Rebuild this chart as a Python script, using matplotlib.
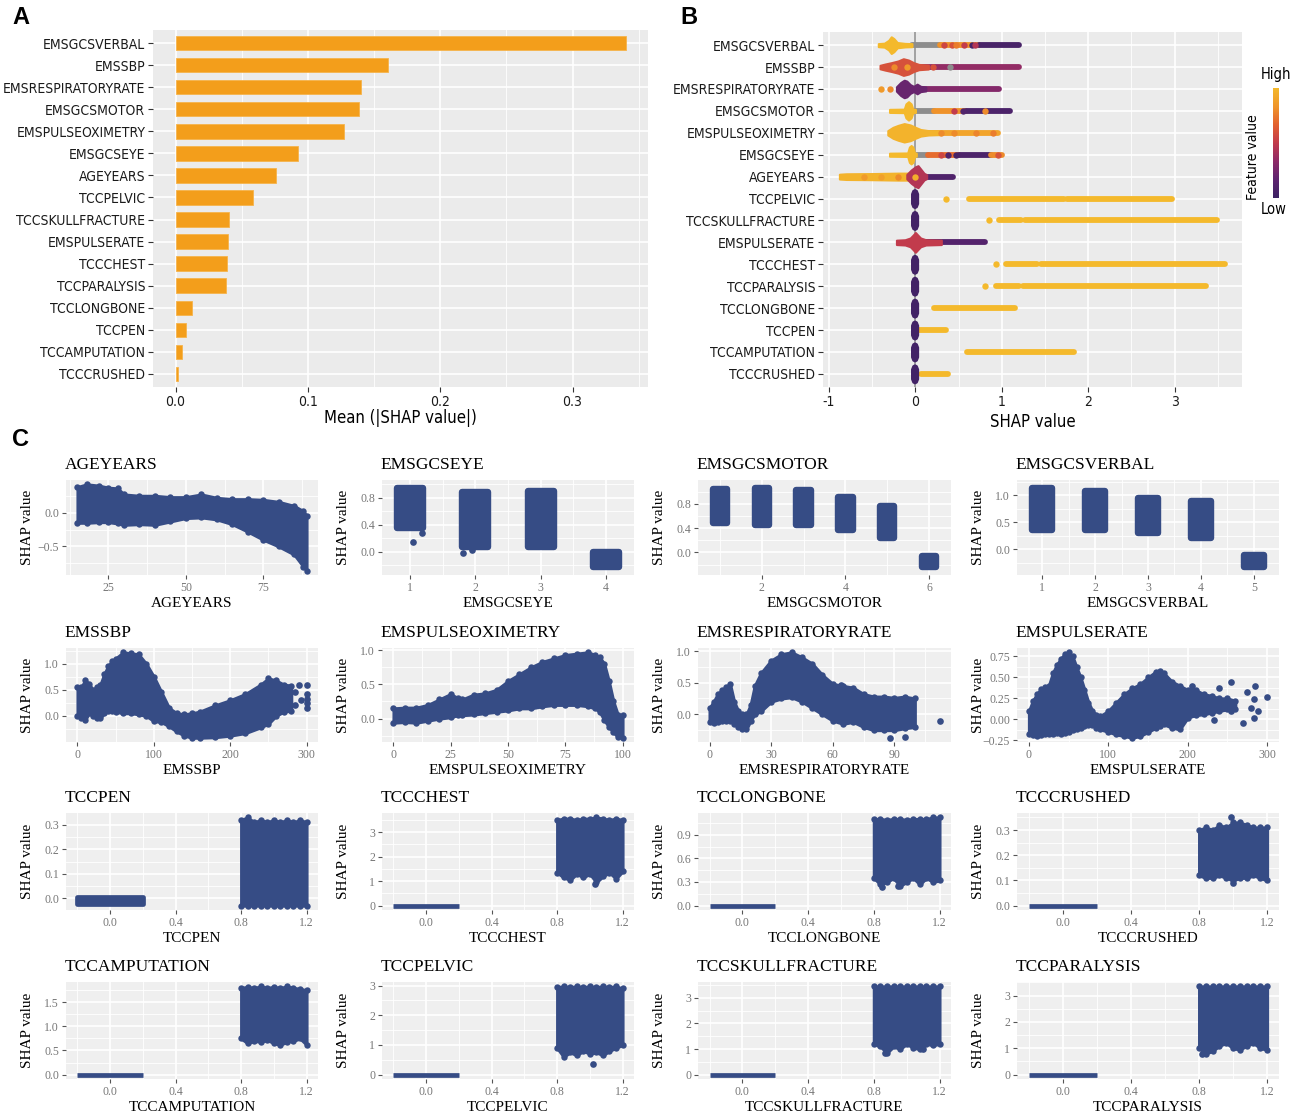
import numpy as np
import matplotlib
matplotlib.use("Agg")
import matplotlib.pyplot as plt
from matplotlib import font_manager as fm
from matplotlib.colors import LinearSegmentedColormap

W, H = 1293, 1113
fig = plt.figure(figsize=(W / 100, H / 100), dpi=100)

SANS = ["Liberation Sans", "DejaVu Sans"]
SERIF = ["Liberation Serif", "DejaVu Serif"]


def narrow_font_path():
    for fam in ["Liberation Sans Narrow", "DejaVu Sans", "Noto Sans", "Open Sans",
                "Roboto Condensed", "Roboto"]:
        for stretch in ["condensed", "semi-condensed", "normal"]:
            try:
                path = fm.findfont(fm.FontProperties(family=fam, stretch=stretch),
                                   fallback_to_default=False)
            except Exception:
                continue
            low = path.lower()
            if ("narrow" in low or "condensed" in low or "cond" in low) and \
                    "bold" not in low and "italic" not in low and "oblique" not in low:
                return path
    return None


NARROW_PATH = narrow_font_path()


def nfont(size):
    if NARROW_PATH:
        return fm.FontProperties(fname=NARROW_PATH, size=size)
    return fm.FontProperties(family=SANS, size=size * 0.86)


ORANGE = "#F39E1B"
NAVY = "#364C85"
GG_BG = "#EBEBEB"
C_BG = "#EFEFEF"
NA_GREY = "#8D8D8D"

# ------------------------------------------------------------------ data A
features = ["EMSGCSVERBAL", "EMSSBP", "EMSRESPIRATORYRATE", "EMSGCSMOTOR",
            "EMSPULSEOXIMETRY", "EMSGCSEYE", "AGEYEARS", "TCCPELVIC",
            "TCCSKULLFRACTURE", "EMSPULSERATE", "TCCCHEST", "TCCPARALYSIS",
            "TCCLONGBONE", "TCCPEN", "TCCAMPUTATION", "TCCCRUSHED"]
mean_abs_shap = [0.340, 0.1603, 0.1403, 0.1390, 0.1273, 0.0925, 0.0760, 0.0583,
                 0.0405, 0.0393, 0.0390, 0.0380, 0.0127, 0.0079, 0.0048, 0.0022]

# ------------------------------------------------------------------ data B
# dense cores: (feature, x positions, half heights in row units, feature value)
TCC_CORE_X = [-0.045, -0.03, -0.01, 0.01, 0.025]
TCC_CORE_H = [0.22, 0.37, 0.41, 0.37, 0.22]
b_cores = [
    ("EMSGCSVERBAL", [-0.43, -0.36, -0.31, -0.28, -0.25, -0.21, -0.12, -0.04],
     [0.07, 0.09, 0.22, 0.38, 0.30, 0.12, 0.08, 0.07], 1.0),
    ("EMSSBP", [-0.41, -0.35, -0.28, -0.2, -0.14, -0.08, -0.02, 0.04, 0.15],
     [0.08, 0.14, 0.20, 0.28, 0.38, 0.32, 0.20, 0.12, 0.09], 0.6),
    ("EMSRESPIRATORYRATE", [-0.22, -0.17, -0.13, -0.1, -0.06, -0.02, 0.02, 0.06, 0.12],
     [0.10, 0.30, 0.40, 0.36, 0.20, 0.12, 0.22, 0.12, 0.09], 0.2),
    ("EMSGCSMOTOR", [-0.3, -0.13, -0.11, -0.08, -0.05, -0.03, 0.0],
     [0.07, 0.08, 0.32, 0.42, 0.32, 0.08, 0.07], 1.0),
    ("EMSPULSEOXIMETRY", [-0.32, -0.26, -0.2, -0.13, -0.06, 0.0, 0.06, 0.15, 0.3],
     [0.10, 0.25, 0.34, 0.42, 0.36, 0.25, 0.15, 0.10, 0.08], 0.97),
    ("EMSGCSEYE", [-0.3, -0.09, -0.07, -0.05, -0.03, -0.01, 0.01],
     [0.07, 0.08, 0.35, 0.42, 0.35, 0.08, 0.07], 1.0),
    ("AGEYEARS", [-0.88, -0.8, -0.5, -0.2, -0.06],
     [0.11, 0.13, 0.14, 0.16, 0.16], 0.97),
    ("AGEYEARS", [-0.1, -0.05, 0.0, 0.03, 0.06, 0.1, 0.13],
     [0.10, 0.30, 0.45, 0.50, 0.35, 0.15, 0.09], 0.45),
    ("EMSPULSERATE", [-0.22, -0.12, -0.06, -0.03, 0.0, 0.03, 0.06, 0.12, 0.3],
     [0.10, 0.12, 0.20, 0.32, 0.45, 0.32, 0.20, 0.12, 0.10], 0.5),
]
for f in ["TCCPELVIC", "TCCSKULLFRACTURE", "TCCCHEST", "TCCPARALYSIS",
          "TCCLONGBONE", "TCCPEN", "TCCAMPUTATION", "TCCCRUSHED"]:
    b_cores.append((f, TCC_CORE_X, TCC_CORE_H, 0.03))

# runs of overlapping points: (feature, x start, x end, feature value; None = missing)
b_bands = [
    ("EMSGCSVERBAL", -0.04, 0.29, None), ("EMSGCSVERBAL", 0.29, 0.73, 0.82),
    ("EMSGCSVERBAL", 0.73, 1.2, 0.06),
    ("EMSSBP", 0.05, 1.2, 0.35),
    ("EMSRESPIRATORYRATE", 0.05, 0.97, 0.3),
    ("EMSGCSMOTOR", 0.0, 0.22, None), ("EMSGCSMOTOR", 0.22, 0.58, 0.82),
    ("EMSGCSMOTOR", 0.58, 1.1, 0.08),
    ("EMSPULSEOXIMETRY", 0.15, 0.96, 0.9),
    ("EMSGCSEYE", 0.0, 0.15, None), ("EMSGCSEYE", 0.15, 0.5, 0.7),
    ("EMSGCSEYE", 0.5, 0.88, 0.08), ("EMSGCSEYE", 0.88, 1.0, 0.8),
    ("AGEYEARS", 0.1, 0.43, 0.1),
    ("TCCPELVIC", 0.62, 1.72, 1.0), ("TCCPELVIC", 1.76, 2.97, 1.0),
    ("TCCSKULLFRACTURE", 0.97, 1.22, 1.0), ("TCCSKULLFRACTURE", 1.27, 3.49, 1.0),
    ("EMSPULSERATE", 0.1, 0.8, 0.12),
    ("TCCCHEST", 1.05, 1.41, 1.0), ("TCCCHEST", 1.45, 3.58, 1.0),
    ("TCCPARALYSIS", 0.93, 1.2, 1.0), ("TCCPARALYSIS", 1.25, 3.36, 1.0),
    ("TCCLONGBONE", 0.22, 1.15, 1.0),
    ("TCCPEN", 0.03, 0.35, 1.0),
    ("TCCAMPUTATION", 0.6, 1.84, 1.0),
    ("TCCCRUSHED", 0.07, 0.38, 1.0),
]
# single visible points: (feature, SHAP value, feature value)
b_points = [
    ("EMSGCSVERBAL", 0.33, 0.55), ("EMSGCSVERBAL", 0.42, 0.6), ("EMSGCSVERBAL", 0.47, 0.75),
    ("EMSGCSVERBAL", 0.56, 0.5), ("EMSGCSVERBAL", 0.65, 0.05), ("EMSGCSVERBAL", 0.69, 0.45),
    ("EMSSBP", -0.25, 0.8), ("EMSSBP", -0.1, 0.85), ("EMSSBP", 0.4, None), ("EMSSBP", 0.2, 0.6),
    ("EMSRESPIRATORYRATE", -0.4, 0.85), ("EMSRESPIRATORYRATE", -0.3, 0.8),
    ("EMSGCSMOTOR", 0.45, 0.5), ("EMSGCSMOTOR", 0.55, 0.1), ("EMSGCSMOTOR", 0.8, 0.8),
    ("EMSPULSEOXIMETRY", 0.3, 0.8), ("EMSPULSEOXIMETRY", 0.45, 0.8),
    ("EMSPULSEOXIMETRY", 0.7, 0.78), ("EMSPULSEOXIMETRY", 0.9, 0.75),
    ("EMSGCSEYE", 0.3, 0.55), ("EMSGCSEYE", 0.38, 0.1), ("EMSGCSEYE", 0.47, 0.05),
    ("EMSGCSEYE", 0.95, 0.6),
    ("AGEYEARS", -0.6, 0.85), ("AGEYEARS", -0.4, 0.88), ("AGEYEARS", -0.2, 0.8),
    ("AGEYEARS", 0.0, 0.95),
    ("TCCPELVIC", 0.35, 1.0), ("TCCSKULLFRACTURE", 0.85, 1.0),
    ("TCCCHEST", 0.93, 1.0), ("TCCPARALYSIS", 0.8, 1.0),
]

# ------------------------------------------------------------------ data C
AGE_X = [15, 18, 22, 25, 28, 30, 35, 40, 45, 50, 55, 60, 65, 70, 75, 80, 85, 88, 89]
AGE_UP = [0.38, 0.42, 0.40, 0.37, 0.36, 0.27, 0.25, 0.25, 0.23, 0.23, 0.27, 0.22,
          0.20, 0.20, 0.19, 0.16, 0.10, 0.02, -0.05]
AGE_LO = [-0.15, -0.15, -0.14, -0.14, -0.16, -0.18, -0.17, -0.18, -0.13, -0.08, -0.07,
          -0.10, -0.17, -0.28, -0.40, -0.50, -0.62, -0.80, -0.86]

SBP_X = [0, 5, 10, 15, 20, 25, 30, 35, 40, 45, 50, 60, 70, 80, 90, 100, 110, 120, 130,
         140, 150, 160, 180, 200, 220, 240, 250, 260, 270, 280]
SBP_UP = [0.55, 0.55, 0.68, 0.62, 0.50, 0.55, 0.60, 0.80, 0.95, 1.05, 1.10, 1.22, 1.20,
          1.18, 1.00, 0.75, 0.45, 0.15, 0.05, 0.03, 0.05, 0.08, 0.20, 0.30, 0.42, 0.60,
          0.72, 0.68, 0.60, 0.58]
SBP_LO = [0.00, -0.05, -0.08, 0.05, 0.00, -0.05, -0.04, 0.05, 0.10, 0.09, 0.08, 0.05,
          0.05, 0.03, 0.00, -0.10, -0.12, -0.20, -0.30, -0.38, -0.42, -0.42, -0.41,
          -0.38, -0.33, -0.22, -0.15, 0.00, 0.08, 0.10]
SBP_OUT = [(300, 0.60), (300, 0.42), (300, 0.33), (300, 0.25), (300, 0.15),
           (290, 0.60), (285, 0.45), (293, 0.30), (285, 0.20)]

POX_X = [0, 5, 10, 15, 20, 25, 28, 30, 35, 40, 45, 50, 55, 60, 65, 70, 75, 80, 85,
         88, 90, 92, 94, 96, 98, 100]
POX_UP = [0.15, 0.16, 0.16, 0.20, 0.28, 0.36, 0.30, 0.28, 0.35, 0.37, 0.42, 0.55, 0.65,
          0.75, 0.83, 0.88, 0.93, 0.95, 0.97, 0.93, 0.90, 0.80, 0.55, 0.25, 0.05, 0.05]
POX_LO = [-0.06, -0.05, -0.06, -0.03, 0.00, 0.02, 0.05, 0.05, 0.06, 0.08, 0.10, 0.12,
          0.15, 0.15, 0.18, 0.20, 0.20, 0.20, 0.18, 0.15, 0.10, -0.02, -0.12, -0.20,
          -0.27, -0.28]

RESP_X = [0, 2, 4, 6, 8, 10, 12, 14, 16, 18, 20, 22, 25, 30, 35, 40, 45, 50, 55, 60,
          65, 70, 75, 80, 85, 90, 95, 100]
RESP_UP = [0.10, 0.20, 0.32, 0.38, 0.43, 0.48, 0.20, 0.05, 0.00, 0.00, 0.15, 0.45,
           0.65, 0.85, 0.95, 0.98, 0.90, 0.80, 0.62, 0.48, 0.45, 0.42, 0.32, 0.28,
           0.28, 0.26, 0.28, 0.25]
RESP_LO = [-0.12, -0.13, -0.12, -0.10, -0.10, -0.10, -0.15, -0.20, -0.23, -0.23, -0.10,
           0.00, 0.05, 0.20, 0.25, 0.27, 0.20, 0.10, 0.00, -0.10, -0.15, -0.12, -0.20,
           -0.25, -0.25, -0.25, -0.22, -0.20]
RESP_OUT = [(112, -0.10), (88, -0.37), (95, -0.36), (63, -0.02), (64, 0.47)]

PR_X = [0, 5, 10, 15, 20, 25, 30, 35, 40, 45, 50, 55, 60, 65, 70, 75, 80, 85, 90, 100,
        110, 120, 130, 140, 150, 160, 165, 170, 180, 190, 200, 210, 220, 230, 240, 250,
        260]
PR_UP = [0.10, 0.22, 0.30, 0.36, 0.38, 0.40, 0.55, 0.65, 0.72, 0.78, 0.80, 0.75, 0.62,
         0.50, 0.35, 0.20, 0.10, 0.05, 0.04, 0.10, 0.20, 0.30, 0.37, 0.42, 0.50, 0.57,
         0.58, 0.55, 0.45, 0.40, 0.35, 0.35, 0.30, 0.28, 0.25, 0.25, 0.22]
PR_LO = [-0.18, -0.19, -0.20, -0.19, -0.18, -0.18, -0.17, -0.16, -0.17, -0.16, -0.15,
         -0.13, -0.12, -0.10, -0.08, -0.07, -0.07, -0.10, -0.12, -0.15, -0.18, -0.20,
         -0.22, -0.20, -0.15, -0.10, -0.08, -0.06, -0.10, -0.12, 0.02, 0.05, 0.06,
         0.08, 0.10, 0.12, 0.12]
PR_OUT = [(255, 0.45), (240, 0.37), (275, 0.33), (285, 0.40), (284, 0.24), (288, 0.10),
          (300, 0.27), (270, -0.05), (284, 0.02), (233, -0.01), (255, 0.10), (280, 0.14),
          (205, 0.40)]

EYE_CAT = [1, 2, 3, 4]
EYE_TOP = [1.00, 0.93, 0.95, 0.05]
EYE_BOT = [0.30, 0.02, 0.02, -0.28]
EYE_OUT = [(1.05, 0.15), (1.18, 0.28), (1.82, -0.02), (1.95, 0.02)]

MOTOR_CAT = [1, 2, 3, 4, 5, 6]
MOTOR_TOP = [1.10, 1.12, 1.08, 0.97, 0.82, 0.00]
MOTOR_BOT = [0.43, 0.40, 0.40, 0.32, 0.18, -0.30]

VERBAL_CAT = [1, 2, 3, 4, 5]
VERBAL_TOP = [1.20, 1.14, 1.00, 0.95, -0.05]
VERBAL_BOT = [0.30, 0.30, 0.23, 0.14, -0.40]

BIN_X = [0.8, 0.84, 0.88, 0.92, 0.96, 1.0, 1.04, 1.08, 1.12, 1.16, 1.2]
PEN_UP = [0.32, 0.33, 0.31, 0.32, 0.31, 0.32, 0.31, 0.32, 0.31, 0.32, 0.31]
PEN_LO = [-0.03] * 11
CHEST_UP = [3.50, 3.55, 3.55, 3.50, 3.55, 3.55, 3.60, 3.55, 3.50, 3.55, 3.50]
CHEST_LO = [1.35, 1.15, 1.05, 1.30, 1.15, 1.30, 0.95, 1.20, 1.35, 1.10, 1.40]
LONG_UP = [1.10, 1.10, 1.09, 1.10, 1.10, 1.09, 1.10, 1.10, 1.10, 1.12, 1.12]
LONG_LO = [0.35, 0.27, 0.30, 0.35, 0.25, 0.30, 0.35, 0.27, 0.35, 0.30, 0.32]
CRUSH_UP = [0.30, 0.31, 0.30, 0.32, 0.31, 0.33, 0.33, 0.32, 0.31, 0.31, 0.31]
CRUSH_LO = [0.12, 0.11, 0.11, 0.12, 0.11, 0.10, 0.11, 0.11, 0.12, 0.11, 0.10]
AMP_UP = [1.80, 1.82, 1.80, 1.83, 1.80, 1.82, 1.80, 1.83, 1.80, 1.78, 1.75]
AMP_LO = [0.75, 0.65, 0.70, 0.68, 0.72, 0.65, 0.62, 0.68, 0.70, 0.75, 0.62]
PELV_UP = [2.95, 2.97, 2.95, 2.97, 2.95, 2.97, 2.95, 2.97, 2.95, 2.97, 2.90]
PELV_LO = [0.90, 0.60, 0.75, 0.65, 0.80, 0.70, 0.75, 0.65, 0.80, 0.90, 1.00]
SKULL_UP = [3.45] * 11
SKULL_LO = [1.20, 1.10, 0.85, 1.10, 1.00, 1.20, 1.05, 1.00, 1.20, 1.15, 1.20]
PARA_UP = [3.35] * 11
PARA_LO = [1.00, 0.80, 0.90, 1.10, 1.20, 1.00, 0.95, 1.10, 1.20, 1.00, 0.95]
BIN_OUT = {
    "TCCPELVIC": [(1.02, 0.35)], "TCCCHEST": [(1.03, 0.90)],
    "TCCLONGBONE": [(0.85, 0.23), (0.95, 0.25)],
    "TCCCRUSHED": [(1.0, 0.09), (0.99, 0.35)],
    "TCCSKULLFRACTURE": [(0.87, 0.85), (1.1, 1.0)],
    "TCCPARALYSIS": [(0.82, 0.80)], "TCCAMPUTATION": [], "TCCPEN": [],
}


# ------------------------------------------------------------------ helpers
def px_axes(l, t, r, b):
    return fig.add_axes([l / W, 1 - b / H, (r - l) / W, (b - t) / H])


def minor_breaks(major, lim):
    step = major[1] - major[0]
    cand = [major[0] - step / 2] + [(a + b) / 2 for a, b in zip(major[:-1], major[1:])] \
        + [major[-1] + step / 2]
    return [v for v in cand if lim[0] <= v <= lim[1]]


def expand(lo, hi, frac=0.05):
    pad = (hi - lo) * frac
    return lo - pad, hi + pad


def fmt(v, nd):
    s = f"{v:.{nd}f}"
    return s.replace("-", "\u2212")


def style_labels(labels, size):
    for t in labels:
        t.set_fontproperties(nfont(size))
        t.set_color("#1A1A1A")


# ------------------------------------------------------------------ panel A
axA = px_axes(153, 30, 648, 387)
n = len(features)
rows = np.arange(n, 0, -1)
axA.set_facecolor(GG_BG)
for v in [0.05, 0.15, 0.25, 0.35]:
    axA.axvline(v, color="white", lw=0.6, zorder=0.3)
for v in [0.0, 0.1, 0.2, 0.3]:
    axA.axvline(v, color="white", lw=1.2, zorder=0.3)
for r in rows:
    axA.axhline(r, color="white", lw=1.2, zorder=0.3)
axA.barh(rows, mean_abs_shap, height=0.65, color=ORANGE, edgecolor="#F6B44C",
         lw=0.6, zorder=2)
axA.set_xlim(-0.017, 0.357)
axA.set_ylim(0.4, n + 0.6)
axA.set_yticks(rows, features)
axA.set_xticks([0.0, 0.1, 0.2, 0.3], ["0.0", "0.1", "0.2", "0.3"])
style_labels(axA.get_yticklabels() + axA.get_xticklabels(), 10)
axA.tick_params(length=3.5, width=0.8, color="#333333", pad=2)
axA.set_xlabel("Mean (|SHAP value|)", fontproperties=nfont(12), labelpad=0)
for s in axA.spines.values():
    s.set_visible(False)

# ------------------------------------------------------------------ panel B
cmap_b = LinearSegmentedColormap.from_list(
    "featval", ["#3C2264", "#5E2470", "#8E2A68", "#C23B4C", "#E3612F", "#F0962A",
                "#F4B92C"])


def fcol(v):
    return NA_GREY if v is None else cmap_b(v)


axB = px_axes(823, 32, 1242, 387)
axB.set_facecolor(GG_BG)
for v in [-0.5, 0.5, 1.5, 2.5, 3.5]:
    axB.axvline(v, color="white", lw=0.6, zorder=0.3)
for v in [-1, 0, 1, 2, 3]:
    axB.axvline(v, color="white", lw=1.2, zorder=0.3)
for r in rows:
    axB.axhline(r, color="white", lw=1.2, zorder=0.3)
axB.axvline(0, color="#9A9A9A", lw=1.3, zorder=0.6)
ypos = {f: n - i for i, f in enumerate(features)}

for f, x0, x1, v in b_bands:
    axB.plot([x0, x1], [ypos[f], ypos[f]], color=fcol(v), lw=4.2,
             solid_capstyle="round", zorder=2)
for f, xs, hs, v in b_cores:
    y = ypos[f]
    xs = np.asarray(xs)
    hs = np.asarray(hs)
    axB.fill_between(xs, y - hs, y + hs, color=fcol(v), lw=1.5, edgecolor=fcol(v),
                     zorder=3)
for f, x, v in b_points:
    axB.plot([x], [ypos[f]], "o", color=fcol(v), ms=4.6, mew=0, zorder=4)

axB.set_xlim(-1.07, 3.78)
axB.set_ylim(0.4, n + 0.6)
axB.set_yticks(rows, features)
axB.set_xticks([-1, 0, 1, 2, 3], ["-1", "0", "1", "2", "3"])
style_labels(axB.get_yticklabels() + axB.get_xticklabels(), 10)
axB.tick_params(length=3.5, width=0.8, color="#333333", pad=2)
axB.set_xlabel("SHAP value", fontproperties=nfont(12), labelpad=3)
for s in axB.spines.values():
    s.set_visible(False)

# colour bar
cax = px_axes(1273, 88, 1279, 198)
cax.imshow(np.linspace(1, 0, 256)[:, None], aspect="auto", cmap=cmap_b,
           extent=[0, 1, 0, 1])
cax.axis("off")
fig.text(1276 / W, 1 - 75 / H, "High", ha="center", va="center",
         fontproperties=nfont(10.5))
fig.text(1274 / W, 1 - 209 / H, "Low", ha="center", va="center",
         fontproperties=nfont(10.5))
fig.text(1253 / W, 1 - 157 / H, "Feature value", ha="center", va="center",
         rotation=90, fontproperties=nfont(10))

# ------------------------------------------------------------------ panel letters
for x, y, s in [(12, 18, "A"), (680, 18, "B"), (12, 440, "C")]:
    fig.text(x / W, 1 - y / H, s, family=SANS, fontsize=17, fontweight="bold",
             ha="left", va="center")

# ------------------------------------------------------------------ panel C
col_lr = [(66, 318), (382, 634), (698, 951), (1017, 1279)]
row_tb = [(480, 575), (648, 742), (813, 910), (982, 1079)]


def c_panel(idx, title, xlim, xmaj, xlab, ylim, ymaj, ylab):
    r, c = divmod(idx, 4)
    l, rr = col_lr[c]
    t, b = row_tb[r]
    ax = px_axes(l, t, rr, b)
    ax.set_facecolor(C_BG)
    for v in minor_breaks(xmaj, xlim):
        ax.axvline(v, color="white", lw=0.6, zorder=0.3)
    for v in minor_breaks(ymaj, ylim):
        ax.axhline(v, color="white", lw=0.6, zorder=0.3)
    for v in xmaj:
        ax.axvline(v, color="white", lw=1.2, zorder=0.3)
    for v in ymaj:
        ax.axhline(v, color="white", lw=1.2, zorder=0.3)
    ax.set_xlim(*xlim)
    ax.set_ylim(*ylim)
    ax.set_xticks(xmaj)
    ax.set_xticklabels(xlab, family=SERIF, fontsize=8.5, color="#777777")
    ax.set_yticks(ymaj)
    ax.set_yticklabels(ylab, family=SERIF, fontsize=8.5, color="#777777")
    ax.tick_params(length=3, width=0.8, color="#555555", pad=2)
    for s in ax.spines.values():
        s.set_visible(False)
    ax.annotate(title, xy=(0, 1), xycoords="axes fraction", xytext=(-1, 11),
                textcoords="offset points", ha="left", va="center", family=SERIF,
                fontsize=12.5)
    ax.set_xlabel(title, family=SERIF, fontsize=11)
    ax.xaxis.set_label_coords(0.5, -22 / (b - t))
    ax.set_ylabel("SHAP value", family=SERIF, fontsize=11)
    ax.yaxis.set_label_coords(-32 / (rr - l), 0.5)
    return ax


def draw_env(ax, xs, lo, up, out=()):
    ax.fill_between(xs, lo, up, color=NAVY, lw=2.2, edgecolor=NAVY, zorder=2,
                    joinstyle="round")
    ax.plot(xs, up, "o", color=NAVY, ms=4.6, mew=0, zorder=2)
    ax.plot(xs, lo, "o", color=NAVY, ms=4.6, mew=0, zorder=2)
    for x, y in out:
        ax.plot([x], [y], "o", color=NAVY, ms=4.8, mew=0, zorder=3)


def draw_cats(ax, cats, top, bot, half=0.25, out=()):
    xl, yl = ax.get_xlim(), ax.get_ylim()
    ppx = ax.bbox.width / (xl[1] - xl[0])
    ppy = ax.bbox.height / (yl[1] - yl[0])
    rad = 3.2  # corner radius, pixels
    dx, dy = rad / ppx, rad / ppy
    for c, tp, bt in zip(cats, top, bot):
        ax.fill_between([c - half + dx, c + half - dx], [bt + dy] * 2, [tp - dy] * 2,
                        color=NAVY, lw=rad * 2 * 0.72, edgecolor=NAVY, zorder=2,
                        joinstyle="round")
    for x, y in out:
        ax.plot([x], [y], "o", color=NAVY, ms=4.8, mew=0, zorder=3)


def cont_panel(idx, title, xs, lo, up, xmaj, ymaj, ynd, out=(), xmax=None):
    xl = expand(min(xs), max(xs) if xmax is None else xmax)
    yl = expand(min(lo + [p[1] for p in out]), max(up + [p[1] for p in out]))
    ax = c_panel(idx, title, xl, xmaj, [f"{v:g}" for v in xmaj], yl, ymaj,
                 [fmt(v, ynd) for v in ymaj])
    draw_env(ax, xs, lo, up, out)


def cat_panel(idx, title, cats, top, bot, xmaj, ymaj, ynd, out=()):
    xl = expand(min(cats) - 0.25, max(cats) + 0.25)
    yl = expand(min(bot + [p[1] for p in out]), max(top))
    ax = c_panel(idx, title, xl, xmaj, [f"{v:g}" for v in xmaj], yl, ymaj,
                 [fmt(v, ynd) for v in ymaj])
    draw_cats(ax, cats, top, bot, out=out)


def bin_panel(idx, title, lo, up, ymaj, ynd, zero_band=(0.0, 0.0)):
    out = BIN_OUT[title]
    xl = expand(-0.2, 1.2)
    ymin = min(lo + [p[1] for p in out] + [zero_band[0]])
    ymax = max(up + [p[1] for p in out])
    yl = expand(ymin, ymax)
    xmaj = [0.0, 0.4, 0.8, 1.2]
    ax = c_panel(idx, title, xl, xmaj, [fmt(v, 1) for v in xmaj], yl, ymaj,
                 [fmt(v, ynd) for v in ymaj])
    ax.fill_between([-0.2, 0.2], [zero_band[0]] * 2, [zero_band[1]] * 2, color=NAVY,
                    lw=3.4, edgecolor=NAVY, zorder=2, joinstyle="round")
    draw_env(ax, BIN_X, lo, up, out)


cont_panel(0, "AGEYEARS", AGE_X, AGE_LO, AGE_UP, [25, 50, 75], [-0.5, 0.0], 1)
cat_panel(1, "EMSGCSEYE", EYE_CAT, EYE_TOP, EYE_BOT, [1, 2, 3, 4], [0.0, 0.4, 0.8], 1,
          out=EYE_OUT)
cat_panel(2, "EMSGCSMOTOR", MOTOR_CAT, MOTOR_TOP, MOTOR_BOT, [2, 4, 6], [0.0, 0.4, 0.8], 1)
cat_panel(3, "EMSGCSVERBAL", VERBAL_CAT, VERBAL_TOP, VERBAL_BOT, [1, 2, 3, 4, 5],
          [0.0, 0.5, 1.0], 1)

cont_panel(4, "EMSSBP", SBP_X, SBP_LO, SBP_UP, [0, 100, 200, 300], [0.0, 0.5, 1.0], 1,
           out=SBP_OUT, xmax=300)
cont_panel(5, "EMSPULSEOXIMETRY", POX_X, POX_LO, POX_UP, [0, 25, 50, 75, 100],
           [0.0, 0.5, 1.0], 1)
cont_panel(6, "EMSRESPIRATORYRATE", RESP_X, RESP_LO, RESP_UP, [0, 30, 60, 90],
           [0.0, 0.5, 1.0], 1, out=RESP_OUT, xmax=112)
cont_panel(7, "EMSPULSERATE", PR_X, PR_LO, PR_UP, [0, 100, 200, 300],
           [-0.25, 0.0, 0.25, 0.5, 0.75], 2, out=PR_OUT, xmax=300)

bin_panel(8, "TCCPEN", PEN_LO, PEN_UP, [0.0, 0.1, 0.2, 0.3], 1, zero_band=(-0.025, 0.005))
bin_panel(9, "TCCCHEST", CHEST_LO, CHEST_UP, [0, 1, 2, 3], 0)
bin_panel(10, "TCCLONGBONE", LONG_LO, LONG_UP, [0.0, 0.3, 0.6, 0.9], 1)
bin_panel(11, "TCCCRUSHED", CRUSH_LO, CRUSH_UP, [0.0, 0.1, 0.2, 0.3], 1)

bin_panel(12, "TCCAMPUTATION", AMP_LO, AMP_UP, [0.0, 0.5, 1.0, 1.5], 1)
bin_panel(13, "TCCPELVIC", PELV_LO, PELV_UP, [0, 1, 2, 3], 0)
bin_panel(14, "TCCSKULLFRACTURE", SKULL_LO, SKULL_UP, [0, 1, 2, 3], 0)
bin_panel(15, "TCCPARALYSIS", PARA_LO, PARA_UP, [0, 1, 2, 3], 0)

fig.savefig("out.png", dpi=100, facecolor="white")
